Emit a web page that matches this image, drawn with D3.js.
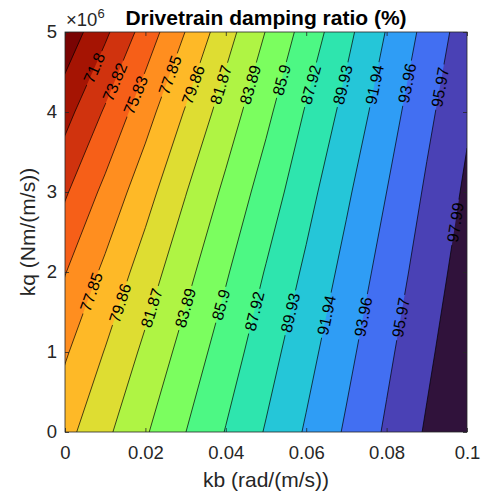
<!DOCTYPE html>
<html>
<head>
<meta charset="utf-8">
<script src="https://cdn.jsdelivr.net/npm/d3@7"></script>
<style>
  body { margin: 0; background: #fff; }
  text { font-family: "Liberation Sans", Arial, sans-serif; }
</style>
</head>
<body>
<div id="chart"></div>
<script>
// grid of the contour plot
const kbValues = [0, 0.01, 0.02, 0.03, 0.04, 0.05, 0.06, 0.07, 0.08, 0.09, 0.1];
const kqValues = [0, 1e6, 2e6, 3e6, 4e6, 5e6];

// damping ratio (%), one row per kq value
const dampingRows = [
  [79.21, 81.44, 83.68, 85.88, 88.01, 90.09, 92.16, 94.23, 96.25, 98.22, 100.0],
  [77.61, 79.96, 82.32, 84.65, 86.91, 89.11, 91.27, 93.43, 95.56, 97.59, 99.54],
  [75.74, 78.30, 80.82, 83.29, 85.68, 88.05, 90.29, 92.56, 94.80, 96.94, 98.96],
  [73.57, 76.35, 79.09, 81.79, 84.33, 86.82, 89.24, 91.62, 93.96, 96.26, 98.35],
  [71.07, 74.07, 77.06, 80.02, 82.82, 85.44, 88.10, 90.55, 93.04, 95.50, 97.69],
  [68.40, 71.42, 74.66, 77.90, 81.08, 83.96, 86.71, 89.39, 92.04, 94.60, 97.00]
];

const levels = [69.79, 71.8, 73.82, 75.83, 77.85, 79.86, 81.87, 83.89, 85.9, 87.92, 89.93, 91.94, 93.96, 95.97, 97.99];

const kbTicks = [0, 0.02, 0.04, 0.06, 0.08, 0.1];
const kqTicks = [0, 1e6, 2e6, 3e6, 4e6, 5e6];

// contour labels: [level, kq where the label sits]
const topLabels = [
  [71.8, 4.55e6], [73.82, 4.375e6], [75.83, 4.21e6], [77.85, 4.46e6], [79.86, 4.34e6],
  [81.87, 4.34e6], [83.89, 4.34e6], [85.9, 4.4e6], [87.92, 4.34e6], [89.93, 4.34e6],
  [91.94, 4.34e6], [93.96, 4.36e6], [95.97, 4.31e6]
];
const bottomLabels = [
  [77.85, 1.75e6], [79.86, 1.61e6], [81.87, 1.55e6], [83.89, 1.55e6], [85.9, 1.59e6],
  [87.92, 1.51e6], [89.93, 1.49e6], [91.94, 1.46e6], [93.96, 1.44e6], [95.97, 1.43e6],
  [97.99, 2.62e6]
];

const width = 487, height = 496;
const svg = d3.select("#chart").append("svg")
  .attr("width", width)
  .attr("height", height);

const x = d3.scaleLinear().domain([0, 0.1]).range([65, 467]);
const y = d3.scaleLinear().domain([0, 5e6]).range([432, 32]);

// flipped turbo; d3's polynomial drifts at the two ends so pin them to matlab's turbo
function turbo(t) {
  if (t <= 0) return "#30123b";
  if (t >= 1) return "#7a0403";
  return d3.interpolateTurbo(t);
}
const colour = i => turbo(1 - i / levels.length);

const nx = kbValues.length, ny = kqValues.length;
const dkb = kbValues[1] - kbValues[0];
const dkq = kqValues[1] - kqValues[0];

// d3.contours puts sample i at coordinate i + 0.5
const gridToPx = d3.geoTransform({
  point: function(cx, cy) {
    this.stream.point(x(kbValues[0] + (cx - 0.5) * dkb), y(kqValues[0] + (cy - 0.5) * dkq));
  }
});
const path = d3.geoPath(gridToPx);

const contours = d3.contours()
  .size([nx, ny])
  .thresholds(levels)(dampingRows.flat());

const defs = svg.append("defs");
defs.append("clipPath").attr("id", "plot-clip")
  .append("rect")
  .attr("x", x(0)).attr("y", y(5e6))
  .attr("width", x(0.1) - x(0)).attr("height", y(0) - y(5e6));

const plot = svg.append("g").attr("clip-path", "url(#plot-clip)");

plot.append("rect")
  .attr("x", x(0)).attr("y", y(5e6))
  .attr("width", x(0.1) - x(0)).attr("height", y(0) - y(5e6))
  .attr("fill", colour(0));

plot.append("g")
  .selectAll("path")
  .data(contours)
  .join("path")
  .attr("d", path)
  .attr("fill", (d, i) => colour(i + 1));

// label placement along the lines
function rowAt(kqv) {
  const t = (kqv - kqValues[0]) / dkq;
  const j = Math.max(0, Math.min(Math.floor(t), ny - 2));
  const f = t - j;
  return dampingRows[j].map((v, i) => v + f * (dampingRows[j + 1][i] - v));
}
function kbAt(level, kqv) {
  const r = rowAt(kqv);
  for (let i = 0; i < r.length - 1; i++) {
    if (level >= r[i] && level <= r[i + 1]) {
      return kbValues[i] + (level - r[i]) / (r[i + 1] - r[i]) * dkb;
    }
  }
  return kbValues[nx - 1];
}

const labelData = topLabels.concat(bottomLabels).map(([level, kqv]) => {
  const p1 = [x(kbAt(level, kqv - 0.15e6)), y(kqv - 0.15e6)];
  const p2 = [x(kbAt(level, kqv + 0.15e6)), y(kqv + 0.15e6)];
  const angle = Math.atan2(p2[1] - p1[1], p2[0] - p1[0]) * 180 / Math.PI;
  return { level, px: x(kbAt(level, kqv)), py: y(kqv), angle };
});

const mask = defs.append("mask").attr("id", "label-gaps")
  .attr("maskUnits", "userSpaceOnUse")
  .attr("x", 0).attr("y", 0).attr("width", width).attr("height", height);
mask.append("rect")
  .attr("width", width).attr("height", height).attr("fill", "#fff");

const lines = plot.append("g").attr("mask", "url(#label-gaps)");
lines.selectAll("path")
  .data(contours)
  .join("path")
  .attr("d", path)
  .attr("fill", "none")
  .attr("stroke", "#000")
  .attr("stroke-width", 0.7);

const labels = svg.append("g")
  .selectAll("text")
  .data(labelData)
  .join("text")
  .attr("transform", d => `translate(${d.px},${d.py}) rotate(${d.angle})`)
  .attr("text-anchor", "middle")
  .attr("dominant-baseline", "central")
  .attr("font-size", 16)
  .attr("fill", "#000")
  .text(d => String(d.level));

labels.each(function(d) {
  const len = this.getComputedTextLength() + 6;
  mask.append("rect")
    .attr("transform", `translate(${d.px},${d.py}) rotate(${d.angle})`)
    .attr("x", -len / 2).attr("y", -7)
    .attr("width", len).attr("height", 14)
    .attr("fill", "#000");
});

// axes
const axisColour = "#262626";
const xAxis = d3.axisBottom(x).tickValues(kbTicks).tickFormat(d => String(d))
  .tickSizeInner(-4).tickSizeOuter(0).tickPadding(14);
const yAxis = d3.axisLeft(y).tickValues(kqTicks).tickFormat(d => String(d / 1e6))
  .tickSizeInner(-4).tickSizeOuter(0).tickPadding(8);

function styleAxis(g) {
  g.select(".domain").remove();
  g.selectAll("line").attr("stroke", axisColour).attr("stroke-width", 0.8);
  g.selectAll("text").attr("fill", axisColour).attr("font-size", 18.5)
    .style("font-family", '"Liberation Sans", Arial, sans-serif');
}

svg.append("g").attr("transform", `translate(0,${y(0)})`).call(xAxis).call(styleAxis);
svg.append("g").attr("transform", `translate(${x(0)},0)`).call(yAxis).call(styleAxis);
svg.append("g").attr("transform", `translate(0,${y(5e6)})`)
  .call(d3.axisTop(x).tickValues(kbTicks).tickFormat("").tickSizeInner(-4).tickSizeOuter(0))
  .call(styleAxis);
svg.append("g").attr("transform", `translate(${x(0.1)},0)`)
  .call(d3.axisRight(y).tickValues(kqTicks).tickFormat("").tickSizeInner(-4).tickSizeOuter(0))
  .call(styleAxis);

svg.append("rect")
  .attr("x", x(0)).attr("y", y(5e6))
  .attr("width", x(0.1) - x(0)).attr("height", y(0) - y(5e6))
  .attr("fill", "none")
  .attr("stroke", axisColour)
  .attr("stroke-width", 0.8);

// exponent
const expo = svg.append("text")
  .attr("x", 66).attr("y", 26)
  .attr("font-size", 18.5)
  .attr("fill", axisColour);
expo.append("tspan").text("\u00d710");
expo.append("tspan").attr("dy", -8).attr("font-size", 13).text("6");

svg.append("text")
  .attr("x", (x(0) + x(0.1)) / 2).attr("y", 25)
  .attr("text-anchor", "middle")
  .attr("font-size", 21)
  .attr("font-weight", "bold")
  .attr("fill", "#000")
  .text("Drivetrain damping ratio (%)");

svg.append("text")
  .attr("x", (x(0) + x(0.1)) / 2).attr("y", 487)
  .attr("text-anchor", "middle")
  .attr("font-size", 21)
  .attr("fill", axisColour)
  .text("kb (rad/(m/s))");

svg.append("text")
  .attr("transform", `translate(35,${(y(0) + y(5e6)) / 2}) rotate(-90)`)
  .attr("text-anchor", "middle")
  .attr("font-size", 21)
  .attr("fill", axisColour)
  .text("kq (Nm/(m/s))");
</script>
</body>
</html>
